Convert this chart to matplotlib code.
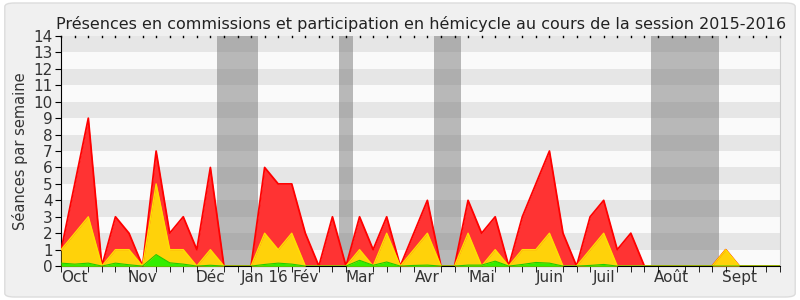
import matplotlib
matplotlib.use("Agg")
import matplotlib.pyplot as plt
from matplotlib.patches import FancyBboxPatch
import numpy as np

# weekly values, session 2015-2016 (week 0 = end of Sept 2015)
weeks = np.arange(54)
total = [1, 5, 9, 0, 3, 2, 0, 7, 2, 3, 1, 6, 0, 0, 0, 6, 5, 5, 2, 0,
         3, 0, 3, 1, 3, 0, 2, 4, 0, 0, 4, 2, 3, 0, 3, 5, 7, 2, 0, 3,
         4, 1, 2, 0, 0, 0, 0, 0, 0, 1, 0, 0, 0, 0]
commission = [1, 2, 3, 0, 1, 1, 0, 5, 1, 1, 0, 1, 0, 0, 0, 2, 1, 2, 0, 0,
              0, 0, 1, 0, 2, 0, 1, 2, 0, 0, 2, 0, 1, 0, 1, 1, 2, 0, 0, 1,
              2, 0, 0, 0, 0, 0, 0, 0, 0, 1, 0, 0, 0, 0]
hemicycle = [0.18, 0.12, 0.18, 0, 0.18, 0.08, 0, 0.7, 0.2, 0.12, 0, 0.05, 0, 0, 0, 0.1, 0.18, 0.12, 0, 0,
             0, 0, 0.35, 0.05, 0.25, 0, 0.04, 0.06, 0, 0, 0.06, 0.06, 0.3, 0, 0.1, 0.22, 0.18, 0, 0, 0.04,
             0.1, 0, 0, 0, 0, 0, 0, 0, 0, 0, 0, 0, 0, 0]

# parliamentary breaks (week ranges)
breaks = [(11.5, 14.5), (20.5, 21.5), (27.5, 29.5), (43.5, 48.5)]

month_pos = [1, 6, 11, 15, 18, 22, 27, 31, 36, 40, 45, 50]
month_labels = ["Oct", "Nov", "Déc", "Jan 16", "Fév", "Mar", "Avr", "Mai",
                "Juin", "Juil", "Août", "Sept"]

fig = plt.figure(figsize=(8, 3), dpi=100, facecolor="white")
fig.patches.append(FancyBboxPatch((0.006, 0.01), 0.988, 0.98,
                                  boxstyle="round,pad=0,rounding_size=0.012",
                                  transform=fig.transFigure, facecolor="#f0f0f0",
                                  edgecolor="#dcdcdc", linewidth=1, zorder=-10))

ax = fig.add_axes([0.0765, 0.113, 0.8985, 0.767])
ax.set_facecolor("#fafafa")

for lo in range(0, 14):
    if lo % 2 == 1:
        ax.axhspan(lo, lo + 1, color="#e6e6e6", lw=0, zorder=0)

for a, b in breaks:
    ax.axvspan(a, b, color="#777777", alpha=0.5, lw=0, zorder=1)

ax.fill_between(weeks, total, 0, color="#ff3333", lw=0, zorder=2)
ax.plot(weeks, total, color="#ff0000", lw=1.3, zorder=3)
ax.fill_between(weeks, commission, 0, color="#ffd20a", lw=0, zorder=4)
ax.plot(weeks, commission, color="#ffe000", lw=1.0, zorder=5)
ax.fill_between(weeks, hemicycle, 0, color="#33ee00", lw=0, zorder=6)
ax.plot(weeks, hemicycle, color="#22cc00", lw=0.8, zorder=7)

ax.set_xlim(0, 53)
ax.set_ylim(0, 14)
ax.set_yticks(range(0, 15))
ax.set_xticks(month_pos)
ax.set_xticklabels(month_labels)
ax.set_xticks(weeks, minor=True)
ax.tick_params(axis="x", which="major", length=0, pad=3, labelsize=11, labelcolor="#333333")
ax.tick_params(axis="x", which="minor", length=4, direction="out", top=True, color="black")
ax.tick_params(axis="y", length=4, labelsize=11, labelcolor="#333333", pad=2)
ax.xaxis.set_tick_params(which="minor", top=True)

ax.spines["top"].set_visible(False)
ax.spines["right"].set_color("#cccccc")
ax.spines["left"].set_color("black")
ax.spines["bottom"].set_color("black")

# small inward ticks at the top edge
for w in weeks:
    ax.plot([w, w], [14, 13.92], color="black", lw=1, zorder=8, clip_on=False)
ax.tick_params(axis="x", which="minor", top=False)

ax.set_ylabel("Séances par semaine", fontsize=10.5, color="#333333", labelpad=4)
ax.set_title("Présences en commissions et participation en hémicycle au cours de la session 2015-2016",
             fontsize=11.5, color="#222222", pad=5)

plt.savefig("out.png", dpi=100, facecolor=fig.get_facecolor())
